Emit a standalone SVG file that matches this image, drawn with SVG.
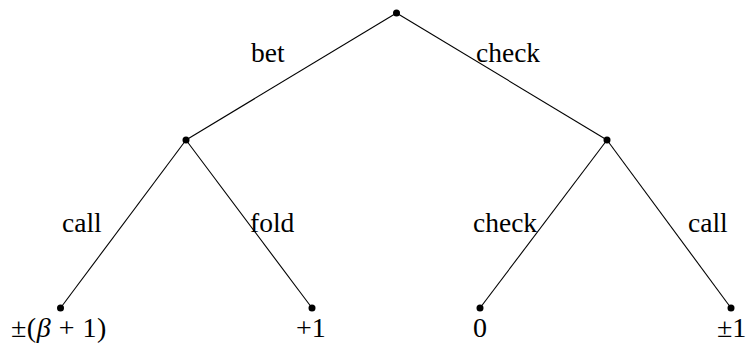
<svg xmlns="http://www.w3.org/2000/svg" width="748" height="344" viewBox="0 0 748 344">
<style>
.e{stroke:#000;stroke-width:1.1;fill:none}
.n{fill:#000}
.t{font-family:"Liberation Serif","Times New Roman",serif;font-size:27.5px;fill:#000}
.l{font-size:28px}
</style>
<rect width="748" height="344" fill="#fff"/>
<g id="edges">
<line class="e" x1="396.5" y1="13" x2="186" y2="140"/>
<line class="e" x1="396.5" y1="13" x2="607" y2="140"/>
<line class="e" x1="186" y1="140" x2="60.5" y2="308"/>
<line class="e" x1="186" y1="140" x2="312" y2="308"/>
<line class="e" x1="607" y1="140" x2="480" y2="308"/>
<line class="e" x1="607" y1="140" x2="731" y2="308"/>
</g>
<g id="root"><circle class="n" cx="396.5" cy="13" r="3.5"/></g>
<g id="left"><circle class="n" cx="186" cy="140" r="3.5"/></g>
<g id="right"><circle class="n" cx="607" cy="140" r="3.5"/></g>
<g id="leaf1"><circle class="n" cx="60.5" cy="308" r="3.5"/><text class="t l" x="11" y="337" letter-spacing="0.5">±(<tspan font-style="italic">β</tspan> + 1)</text></g>
<g id="leaf2"><circle class="n" cx="312" cy="308" r="3.5"/><text class="t l" x="296" y="337">+1</text></g>
<g id="leaf3"><circle class="n" cx="480" cy="308" r="3.5"/><text class="t l" x="473" y="337">0</text></g>
<g id="leaf4"><circle class="n" cx="731" cy="308" r="3.5"/><text class="t l" x="717" y="337">±1</text></g>
<g id="labels">
<text class="t" x="251" y="62">bet</text>
<text class="t" x="476" y="62">check</text>
<text class="t" x="62" y="232">call</text>
<text class="t" x="250" y="232">fold</text>
<text class="t" x="473" y="232">check</text>
<text class="t" x="688" y="232">call</text>
</g>
</svg>
